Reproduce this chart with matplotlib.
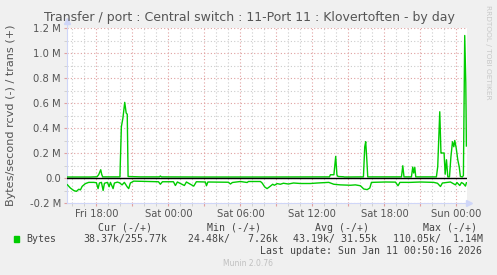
from datetime import datetime, timedelta

import matplotlib
matplotlib.use('Agg')
import matplotlib.pyplot as plt
import matplotlib.dates as mdates
from matplotlib.patches import Rectangle
from matplotlib.ticker import FuncFormatter, MultipleLocator

W, H = 497, 275

# Sat 00:00, hours below are relative to this
base = datetime(2026, 1, 10, 0, 0)

# trans (+), kB/s
trans_hours = [-8.42, -6.50, -5.94, -5.81, -5.64, -5.56, -5.48,
               -4.04, -3.92, -3.79, -3.64, -3.52, -3.43, -3.36,
               -2.33, -0.75, -0.67, -0.58, 2.67, 7.67,
               13.42, 13.50, 13.79, 13.94, 14.04, 14.13, 14.58, 14.67,
               16.25, 16.36, 16.44, 16.53, 16.61,
               19.42, 19.53, 19.63,
               20.25, 20.36, 20.44, 20.53, 20.61,
               22.33, 22.44, 22.61, 22.71, 22.79, 22.97, 23.06, 23.17, 23.28,
               23.42, 23.54, 23.67, 23.78, 23.86, 23.98, 24.11, 24.23, 24.33,
               24.50, 24.58, 24.69, 24.78, 24.83]
trans_k = [8, 8, 10, 27, 66, 30, 9,
           9, 410, 480, 605, 520, 510, 12,
           9, 9, 16, 9, 8, 8,
           9, 26, 26, 173, 25, 12, 10, 8,
           9, 250, 290, 150, 9,
           9, 98, 9,
           9, 88, 40, 85, 9,
           9, 90, 530, 200, 200, 200, 30, 146, 9,
           9, 170, 290, 250, 300, 240, 146, 90, 12,
           9, 20, 1140, 760, 256]

# rcvd (-), kB/s, drawn below zero
rcvd_hours = [-8.42, -8.17, -7.89, -7.67, -7.47, -7.33, -7.19, -6.92, -6.64,
              -6.22, -6.00, -5.86, -5.75, -5.58, -5.44, -5.33, -5.08, -4.94,
              -4.83, -4.61, -4.50, -4.25, -4.08, -3.86, -3.67, -3.44, -3.31,
              -3.17, -2.89, -0.83, -0.67, -0.50, 0.42, 0.58, 0.75, 1.33, 1.50,
              1.83, 2.11, 2.33, 3.08, 3.17, 3.29, 5.00, 5.17, 5.33, 6.00, 6.56,
              6.67, 7.67, 7.81, 8.03, 8.22, 8.36, 8.50, 8.69, 8.83, 9.06, 9.33,
              9.58, 10.00, 10.42, 11.00, 11.83, 12.42, 13.36, 13.78, 14.33,
              15.17, 15.58, 16.00, 16.28, 16.56, 16.78, 16.92, 18.08, 18.92,
              19.13, 19.29, 20.17, 21.00, 22.11, 22.42, 22.67, 22.83, 23.50,
              23.92, 24.04, 24.28, 24.42, 24.58, 24.75, 24.83]
rcvd_k = [54, 80, 100, 107, 90, 95, 67, 45, 35,
          35, 38, 85, 40, 35, 100, 42, 35, 70,
          35, 85, 40, 33, 38, 55, 35, 70, 85,
          40, 25, 30, 50, 30, 30, 60, 32, 60, 32,
          50, 65, 30, 32, 62, 32, 34, 48, 36, 28, 36,
          28, 28, 40, 72, 85, 75, 65, 50, 58, 45, 50,
          42, 48, 40, 44, 44, 40, 35, 50, 55,
          58, 55, 62, 88, 93, 80, 35, 32, 33,
          62, 35, 35, 32, 35, 42, 68, 40, 32,
          55, 36, 60, 36, 45, 65, 38]

legend_cols = ['Cur (-/+)', 'Min (-/+)', 'Avg (-/+)', 'Max (-/+)']
legend_vals = ['38.37k/255.77k', '24.48k/   7.26k', '43.19k/ 31.55k', '110.05k/  1.14M']

GREEN = '#00cc00'
GREY = '#555555'


def to_dates(hours):
    return [mdates.date2num(base + timedelta(hours=h)) for h in hours]


def px(x, y):
    return x / W, 1 - y / H


fig = plt.figure(figsize=(W / 100, H / 100), dpi=100, facecolor='#f0f0f0')
ax = fig.add_axes([67 / W, 1 - 203 / H, 400 / W, 175 / H])
ax.set_facecolor('white')

ax.plot(to_dates(trans_hours), trans_k, color=GREEN, lw=1, zorder=3)
ax.plot(to_dates(rcvd_hours), [-v for v in rcvd_k], color=GREEN, lw=1, zorder=3)
ax.axhline(0, color='black', lw=1, zorder=4)

ax.set_xlim(to_dates([-8.45, 24.88]))
ax.set_ylim(-200, 1200)

# grid: red every 3h / 0.2M, grey every 1h / 0.1M
ax.xaxis.set_major_locator(mdates.HourLocator(byhour=range(0, 24, 3)))
ax.xaxis.set_minor_locator(mdates.HourLocator())


def xfmt(x, pos):
    d = mdates.num2date(x)
    return d.strftime('%a %H:%M') if d.hour % 6 == 0 else ''


ax.xaxis.set_major_formatter(FuncFormatter(xfmt))
ax.yaxis.set_major_locator(MultipleLocator(200))
ax.yaxis.set_minor_locator(MultipleLocator(100))
ax.yaxis.set_major_formatter(FuncFormatter(
    lambda v, pos: '0.0' if abs(v) < 1e-6 else '%.1f M' % (v / 1000)))

ax.grid(which='major', color='#e0a0a0', ls=(0, (1, 2)), lw=0.8)
ax.grid(which='minor', color='#cccccc', ls=(0, (1, 2)), lw=0.8)
ax.set_axisbelow(True)

ax.tick_params(which='major', length=2, color='#e0a0a0', labelsize=7.2,
               labelcolor=GREY, pad=2.5)
ax.tick_params(which='minor', length=2, color='#cccccc')

for s in ['top', 'right']:
    ax.spines[s].set_visible(False)
for s in ['left', 'bottom']:
    ax.spines[s].set_color('#cfd6f8')
ax.spines['left'].set_bounds(-200, 1245)
ax.plot([0], [1.04], marker='^', ms=4, color='#cfd6f8', transform=ax.transAxes,
        clip_on=False)
ax.plot([1.005], [0], marker='>', ms=4, color='#cfd6f8', transform=ax.transAxes,
        clip_on=False)

fig.text(*px(249, 18), 'Transfer / port : Central switch : 11-Port 11 : Klovertoften - by day',
         ha='center', va='center', fontsize=9.0, color=GREY)
fig.text(*px(11, 115), 'Bytes/second rcvd (-) / trans (+)', rotation=90,
         ha='center', va='center', fontsize=8.1, color=GREY)
fig.text(*px(488, 5), 'RRDTOOL / TOBI OETIKER', rotation=270,
         ha='center', va='top', fontsize=5.3, color='#c8c8c8')

mono = 'DejaVu Sans Mono'
for x, t in zip([98, 207, 315, 423], legend_cols):
    fig.text(*px(x, 228), t, ha='left', va='center', family=mono, fontsize=7.1,
             color='#444444')
fig.patches.append(Rectangle(px(14, 242), 5 / W, 6 / H, transform=fig.transFigure,
                             color=GREEN))
fig.text(*px(26, 239), 'Bytes', ha='left', va='center', family=mono, fontsize=7.1,
         color='#444444')
for x, t in zip([83, 188, 293, 393], legend_vals):
    fig.text(*px(x, 239), t, ha='left', va='center', family=mono, fontsize=7.1,
             color='#444444')
fig.text(*px(482, 251), 'Last update: Sun Jan 11 00:50:16 2026', ha='right',
         va='center', family=mono, fontsize=7.1, color='#444444')
fig.text(*px(248, 264), 'Munin 2.0.76', ha='center', va='center', fontsize=5.5,
         color='#c0c0c0')

fig.savefig('out.png', dpi=100, facecolor=fig.get_facecolor())
